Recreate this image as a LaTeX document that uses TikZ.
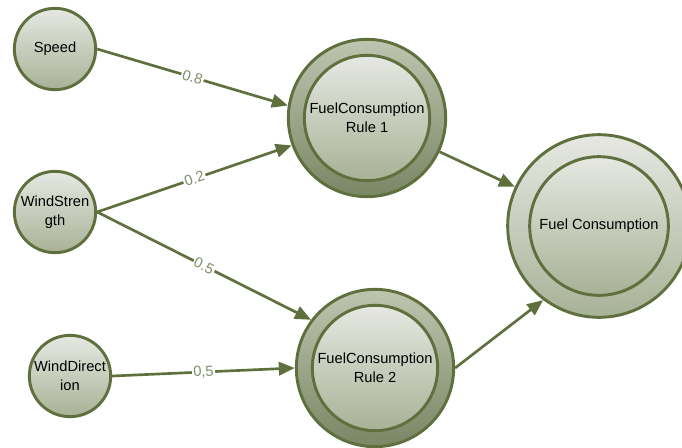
\documentclass[tikz,border=0pt]{standalone}
\usepackage{fontspec}
\setmainfont{Liberation Sans}
\usetikzlibrary{arrows.meta}
\definecolor{trait}{RGB}{95,112,62}
\definecolor{etiq}{RGB}{128,142,104}
\definecolor{clair}{RGB}{230,232,226}
\definecolor{moyen}{RGB}{168,178,150}
\definecolor{fonce}{RGB}{122,134,100}
\definecolor{anneauhaut}{RGB}{190,197,176}

\begin{document}
\begin{tikzpicture}[x=0.75pt,y=-0.75pt,
    entree/.style={circle,draw=trait,line width=2.2pt,top color=clair,bottom color=moyen,
      minimum size=61pt,inner sep=0pt,align=center,font=\fontsize{11}{14}\selectfont},
    anneau/.style={circle,draw=trait,line width=2.2pt,top color=anneauhaut,bottom color=fonce,
      minimum size=118pt,inner sep=0pt},
    coeur/.style={circle,draw=trait,line width=2.2pt,top color=clair,bottom color=moyen,
      minimum size=94pt,inner sep=0pt,align=center,font=\fontsize{11}{14}\selectfont},
    fleche/.style={draw=trait,line width=2pt,-{Triangle[length=12pt,width=10pt]}},
    poids/.style={midway,sloped,fill=white,text=etiq,inner sep=1pt,font=\fontsize{11}{13}\selectfont}]
      \clip (0,0) rectangle (682,447);

      % Entrees
      \node[entree] (speed) at (55,49) {Speed};
      \node[entree] (windstr) at (55,212) {WindStren\\gth};
      \node[entree] (winddir) at (70,376) {WindDirect\\ion};

      % Regles
      \node[anneau] (rule1) at (367,118) {};
      \node[coeur] (rule1c) at (367,118) {FuelConsumption\\Rule 1};
      \node[anneau] (rule2) at (375,368) {};
      \node[coeur] (rule2c) at (375,368) {FuelConsumption\\Rule 2};

      % Sortie
      \node[entree,minimum size=137pt] (fuel) at (599,226) {};
      \node[coeur,minimum size=104pt] (fuelc) at (599,226) {Fuel Consumption};

      % Liens
      \draw[fleche] (speed.east) -- node[poids] {0.8} (rule1.171);
      \draw[fleche] (windstr.east) -- node[poids] {0.2} (rule1.200);
      \draw[fleche] (windstr.east) -- node[poids] {0.5} (rule2.143);
      \draw[fleche] (winddir.east) -- node[poids] {0,5} (rule2.west);
      \draw[fleche] (rule1) -- (fuel);
      \draw[fleche] (rule2.east) -- (fuel.233);
    \end{tikzpicture}
\end{document}
